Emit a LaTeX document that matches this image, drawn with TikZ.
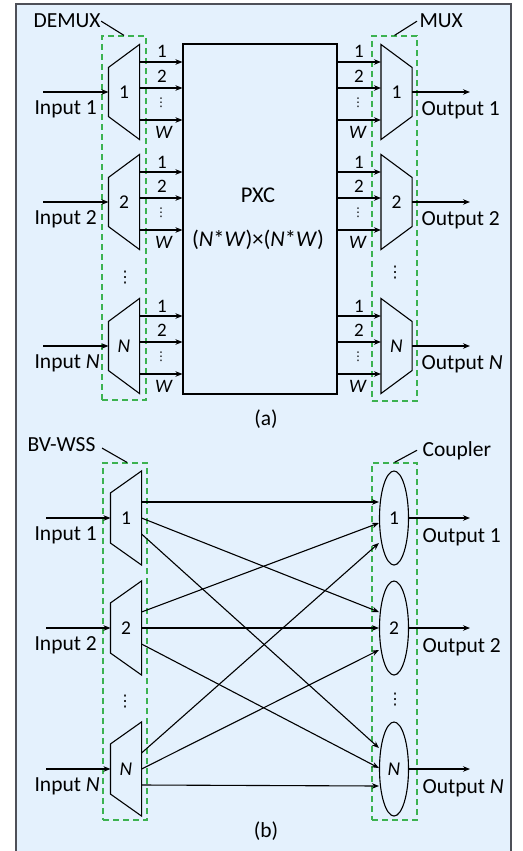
\documentclass[tikz,border=0pt]{standalone}
\usepackage{fontspec}
\setmainfont{Carlito}
\newfontfamily\dotsfont{DejaVu Sans}
\usetikzlibrary{arrows.meta,shapes.geometric}

\definecolor{bgblue}{RGB}{228,241,253}
\definecolor{framegray}{RGB}{78,80,88}
\definecolor{grpgreen}{RGB}{60,178,80}

\tikzset{
  lbl/.style={font=\fontsize{21.5}{24}\selectfont, inner sep=0pt},
  num/.style={font=\fontsize{19}{22}\selectfont, inner sep=0pt},
  vdot/.style={font=\dotsfont\fontsize{12}{14}\selectfont, inner sep=0pt},
  bigvdot/.style={font=\dotsfont\fontsize{16}{18}\selectfont, inner sep=0pt},
  blk/.style={minimum width=30pt, minimum height=94pt, inner sep=0pt, font=\fontsize{19.5}{22}\selectfont},
  cpl/.style={draw, ellipse, line width=1.1pt, minimum width=29pt, minimum height=94pt, inner sep=0pt, font=\fontsize{19.5}{22}\selectfont},
  grp/.style={draw=grpgreen, line width=1.2pt, dash pattern=on 6pt off 4pt, inner sep=0pt},
  sig/.style={-{Stealth[length=7pt,width=5.5pt]}, line width=1.1pt},
}

\begin{document}
\begin{tikzpicture}[x=1pt,y=-1pt,line width=1.1pt]
\useasboundingbox (0,0) rectangle (522,851);
\fill[bgblue] (16,4) rectangle (511,851);
\draw[framegray,line width=1.5pt] (16,851) -- (16,4) -- (511,4) -- (511,851);

% (a) demux / PXC / mux
\node[grp, minimum width=44pt, minimum height=364pt] (dmgrp) at (124,218) {};
\node[grp, minimum width=45pt, minimum height=365pt] (mxgrp) at (394.5,218.5) {};
\node[lbl, anchor=base west] (dmlbl) at (33,28) {DEMUX};
\node[lbl, anchor=base west] (mxlbl) at (419,28) {MUX};
\draw (dmlbl.east) -- (dmgrp.north);
\draw (mxgrp.north) -- ([xshift=-2pt]mxlbl.west);

\node[draw, minimum width=154pt, minimum height=350pt, inner sep=0pt] (pxc) at (260,219) {};
\node[lbl, font=\fontsize{22.5}{26}\selectfont, anchor=base] (pxcname) at (258,202) {PXC};
\node[lbl, font=\fontsize{22.5}{26}\selectfont, anchor=base] (pxcsize) at (258,246) {(\textit{N}*\textit{W})×(\textit{N}*\textit{W})};

\foreach \n/\t/\y in {1/1/92,2/2/202,N/\textit{N}/346}{
  \node[blk] (dm\n) at (124,\y) {\t};
  \draw (dm\n.north east) -- (dm\n.south east) -- ([yshift=23pt]dm\n.south west) -- ([yshift=-23pt]dm\n.north west) -- cycle;
  \node[blk] (mx\n) at (396.5,\y) {\t};
  \draw (mx\n.north west) -- (mx\n.south west) -- ([yshift=23pt]mx\n.south east) -- ([yshift=-23pt]mx\n.north east) -- cycle;
  \coordinate (in\n) at (43,\y);
  \coordinate (out\n) at (470,\y);
  \draw[sig] (in\n) -- (dm\n.west);
  \draw[sig] (mx\n.east) -- (out\n);
  \node[lbl, anchor=base west] (inlbl\n) at (34,\y+22) {Input \t};
  \node[lbl, anchor=base west] (outlbl\n) at (421,\y+23) {Output \t};
  \foreach \d in {30,4,-28}{
    \draw[sig] ([yshift=\d pt]dm\n.east) -- ([yshift=\d pt]dm\n.east -| pxc.west);
    \draw[sig] ([yshift=\d pt]mx\n.west -| pxc.east) -- ([yshift=\d pt]mx\n.west);
  }
  \node[num, anchor=base] (dw1\n) at (162,\y-34) {1};
  \node[num, anchor=base] (dw2\n) at (162,\y-10) {2};
  \node[vdot] (dwd\n) at (161,\y+11) {⋮};
  \node[num, anchor=base] (dwW\n) at (164,\y+46) {\textit{W}};
  \node[num, anchor=base] (mw1\n) at (359,\y-34) {1};
  \node[num, anchor=base] (mw2\n) at (359,\y-10) {2};
  \node[vdot] (mwd\n) at (358,\y+11) {⋮};
  \node[num, anchor=base] (mwW\n) at (358,\y+46) {\textit{W}};
}
\node[bigvdot] (dmdots) at (125,278) {⋮};
\node[bigvdot] (mxdots) at (395,273) {⋮};
\node[lbl, anchor=base] (capa) at (266,425) {(a)};

% (b) BV-WSS / couplers
\node[grp, minimum width=44pt, minimum height=357pt] (wsgrp) at (125,641.5) {};
\node[grp, minimum width=45pt, minimum height=357pt] (cpgrp) at (394.5,641.5) {};
\node[lbl, anchor=base west] (wslbl) at (27,451) {BV-WSS};
\node[lbl, anchor=base west] (cplbl) at (422,456) {Coupler};
\draw ([xshift=6pt,yshift=-4pt]wslbl.east) -- ([xshift=2pt]wsgrp.north);
\draw (cpgrp.north) -- ([xshift=-5pt]cplbl.west);

\foreach \n/\t/\y in {1/1/518,2/2/628,N/\textit{N}/769}{
  \node[blk, minimum height=93pt] (ws\n) at (126,\y) {\t};
  \draw (ws\n.north east) -- (ws\n.south east) -- ([yshift=22pt]ws\n.south west) -- ([yshift=-22pt]ws\n.north west) -- cycle;
  \node[cpl] (cp\n) at (394,\y) {\t};
  \coordinate (bin\n) at (46,\y);
  \coordinate (bout\n) at (470,\y);
  \draw[sig] (bin\n) -- (ws\n.west);
  \draw[sig] (cp\n.east) -- (bout\n);
  \node[lbl, anchor=base west] (binlbl\n) at (34,\y+22) {Input \t};
  \node[lbl, anchor=base west] (boutlbl\n) at (422,\y+24) {Output \t};
}
\foreach \s/\a/\d/\b in {1/16/1/16, 1/0/2/16, 1/-16/N/21, 2/16/1/-5, 2/0/2/0, 2/-16/N/1, N/16/1/-25, N/0/2/-22, N/-16/N/-17}
  \draw[sig] ([yshift=\a pt]ws\s.east) -- ([yshift=\b pt]cp\d.west);
\node[bigvdot] (wsdots) at (125,702) {⋮};
\node[bigvdot] (cpdots) at (395,700) {⋮};
\node[lbl, anchor=base] (capb) at (266,837) {(b)};
\end{tikzpicture}
\end{document}
